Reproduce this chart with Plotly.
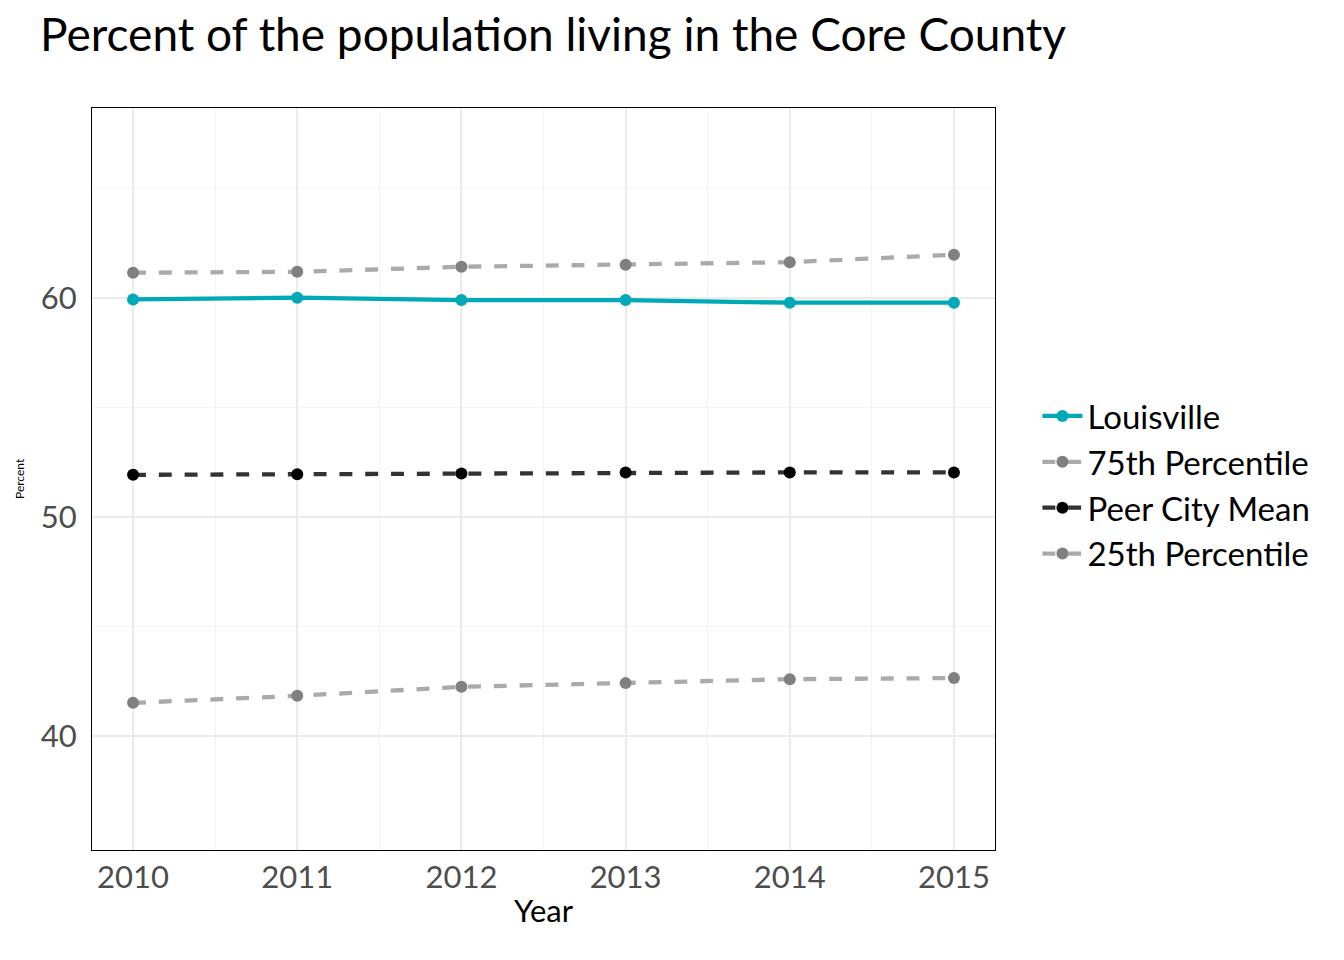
import plotly.graph_objects as go

years = [2010, 2011, 2012, 2013, 2014, 2015]
louisville = [59.94, 60.02, 59.91, 59.91, 59.79, 59.79]
p75 = [61.16, 61.20, 61.43, 61.52, 61.64, 61.98]
peer_mean = [51.93, 51.96, 51.99, 52.04, 52.04, 52.04]
p25 = [41.52, 41.84, 42.25, 42.42, 42.60, 42.65]

FONT = "Lato"
OFF = 8  # page body margin

fig = go.Figure()
fig.add_trace(go.Scatter(x=years, y=louisville, name="Louisville", mode="lines+markers",
                         line=dict(color="#00a9b7", width=4.3), marker=dict(color="#00a9b7", size=12)))
fig.add_trace(go.Scatter(x=years, y=p75, name="75th Percentile", mode="lines+markers",
                         line=dict(color="#aaaaaa", width=4.3, dash="dash"), marker=dict(color="#808080", size=12)))
fig.add_trace(go.Scatter(x=years, y=peer_mean, name="Peer City Mean", mode="lines+markers",
                         line=dict(color="#333333", width=4.3, dash="dash"), marker=dict(color="#000000", size=12)))
fig.add_trace(go.Scatter(x=years, y=p25, name="25th Percentile", mode="lines+markers",
                         line=dict(color="#aaaaaa", width=4.3, dash="dash"), marker=dict(color="#808080", size=12)))

fig.update_layout(
    width=1344, height=960,
    paper_bgcolor="white", plot_bgcolor="white",
    font=dict(family=FONT, color="black"),
    margin=dict(l=92 - OFF, r=349 + OFF, t=108 - OFF, b=110 + OFF),
    title=dict(text="Percent of the population living in the Core County",
               font=dict(size=46, family=FONT, color="black"),
               x=(553 - OFF) / 1344, xanchor="center", y=1 - (35 - OFF) / 960, yanchor="middle"),
    legend=dict(font=dict(size=33, family=FONT, color="black"), x=1.047, xanchor="left",
                y=0.492, yanchor="middle", tracegroupgap=0, itemwidth=40,
                bgcolor="rgba(0,0,0,0)"),
    xaxis=dict(range=[2009.75, 2015.25], tickvals=years, ticktext=[str(y) for y in years],
               tickfont=dict(size=31, color="#4d4d4d"),
               title=dict(text="Year", font=dict(size=31, color="black"), standoff=6),
               showgrid=True, gridcolor="#ebebeb", gridwidth=2,
               minor=dict(tickvals=[2010.5, 2011.5, 2012.5, 2013.5, 2014.5], showgrid=True,
                          gridcolor="#f4f4f4", gridwidth=1),
               showline=True, linecolor="black", linewidth=1, mirror=True,
               zeroline=False, ticks=""),
    yaxis=dict(range=[34.8, 68.68], tickvals=[40, 50, 60],
               tickfont=dict(size=31, color="#4d4d4d"), ticklabelstandoff=8,
               showgrid=True, gridcolor="#ebebeb", gridwidth=2,
               minor=dict(tickvals=[45, 55, 65], showgrid=True, gridcolor="#f4f4f4", gridwidth=1),
               showline=True, linecolor="black", linewidth=1, mirror=True,
               zeroline=False, ticks=""),
    annotations=[dict(text="Percent", xref="paper", yref="paper", x=(19 - 92) / 903, y=0.5,
                      textangle=-90, showarrow=False, font=dict(size=12, color="black"),
                      xanchor="center", yanchor="middle")],
)

fig.write_html("out.html")
